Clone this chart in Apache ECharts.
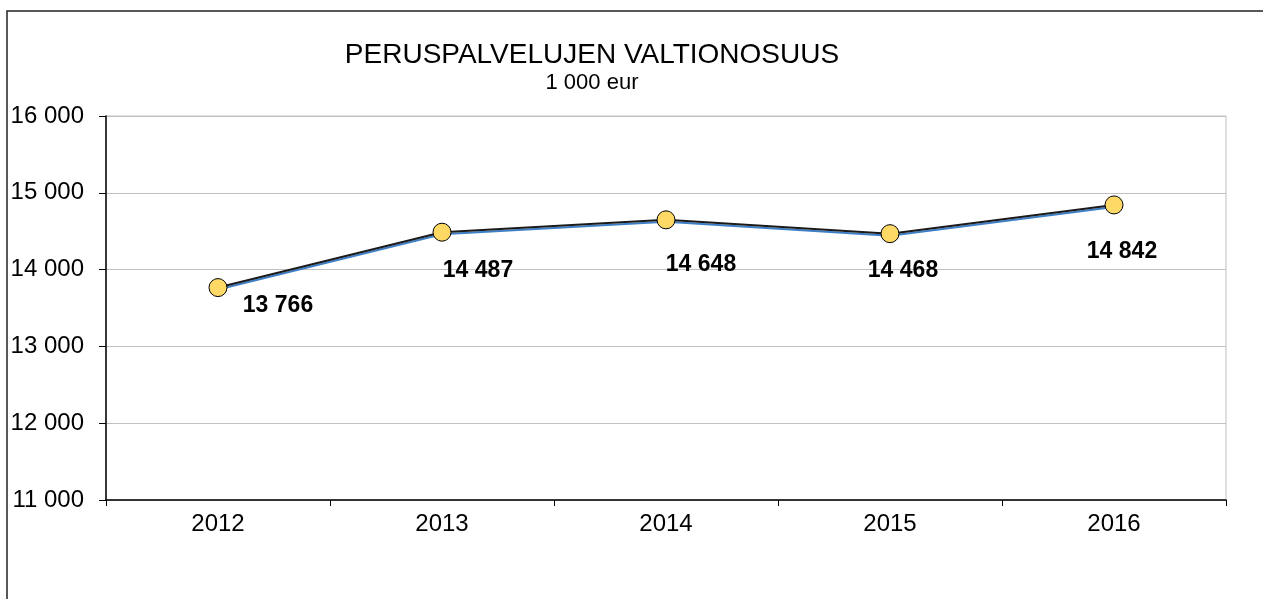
<!DOCTYPE html>
<html>
<head>
<meta charset="utf-8">
<script src="https://cdn.jsdelivr.net/npm/echarts@6/dist/echarts.min.js"></script>
<style>
  html, body { margin: 0; padding: 0; background: #fff; }
  #chart { width: 1263px; height: 599px; }
</style>
</head>
<body>
<div id="chart"></div>
<script>
// chart data
const years = ['2012', '2013', '2014', '2015', '2016'];
const values = [13766, 14487, 14648, 14468, 14842];
const yTicks = [11000, 12000, 13000, 14000, 15000, 16000];
const titleText = 'PERUSPALVELUJEN VALTIONOSUUS';
const subText = '1 000 eur';

const fmt = (v) => String(v).replace(/\B(?=(\d{3})+(?!\d))/g, ' ');

// label offsets around each point (style only)
const labelOffsets = [[60, 18], [36, 38], [35, 45], [13, 37], [8, 47]];

const myChart = echarts.init(document.getElementById('chart'), null, { renderer: 'canvas' });

myChart.setOption({
  backgroundColor: '#fff',
  animation: false,
  textStyle: { fontFamily: 'Liberation Sans, Arial, sans-serif' },
  title: {
    text: titleText,
    subtext: subText,
    left: 587,
    textAlign: 'center',
    top: 36,
    itemGap: 3,
    textStyle: { fontSize: 28, fontWeight: 'normal', color: '#000', fontFamily: 'Liberation Sans' },
    subtextStyle: { fontSize: 22, color: '#000', fontFamily: 'Liberation Sans' },
  },
  graphic: [
    {
      type: 'rect',
      shape: { x: 7, y: 11, width: 1400, height: 800 },
      style: { fill: 'none', stroke: '#222', lineWidth: 1.5 },
      silent: true,
    },
  ],
  grid: {
    left: 106,
    top: 116,
    right: 37,
    bottom: 99,
    show: true,
    borderColor: '#c0c0c0',
    borderWidth: 1,
  },
  xAxis: {
    type: 'category',
    data: years,
    boundaryGap: true,
    axisLine: { lineStyle: { color: '#000', width: 1.5 } },
    axisTick: { show: true, inside: false, length: 6, lineStyle: { color: '#000' } },
    axisLabel: { color: '#000', fontSize: 24, margin: 12 },
    splitLine: { show: false },
  },
  yAxis: {
    type: 'value',
    min: yTicks[0],
    max: yTicks[yTicks.length - 1],
    interval: 1000,
    axisLine: { show: true, lineStyle: { color: '#000', width: 1.5 } },
    axisTick: { show: true, inside: false, length: 7, lineStyle: { color: '#000' } },
    axisLabel: { color: '#000', fontSize: 24, margin: 22, formatter: (v) => fmt(v) },
    splitLine: { lineStyle: { color: '#c0c0c0', width: 1 } },
  },
  series: [
    {
      type: 'line',
      data: values.map((v, i) => ({
        value: v,
        label: { offset: labelOffsets[i] },
      })),
      symbol: 'circle',
      symbolSize: 18,
      lineStyle: {
        color: '#1a1a1a',
        width: 2,
        shadowColor: '#3c7fc6',
        shadowBlur: 0,
        shadowOffsetY: 2,
      },
      itemStyle: { color: '#ffd966', borderColor: '#000', borderWidth: 1 },
      label: {
        show: true,
        position: 'inside',
        color: '#000',
        fontSize: 23,
        fontWeight: 'bold',
        formatter: (p) => fmt(p.value),
      },
      z: 3,
    },
  ],
});

window.addEventListener('resize', () => myChart.resize());
</script>
</body>
</html>
